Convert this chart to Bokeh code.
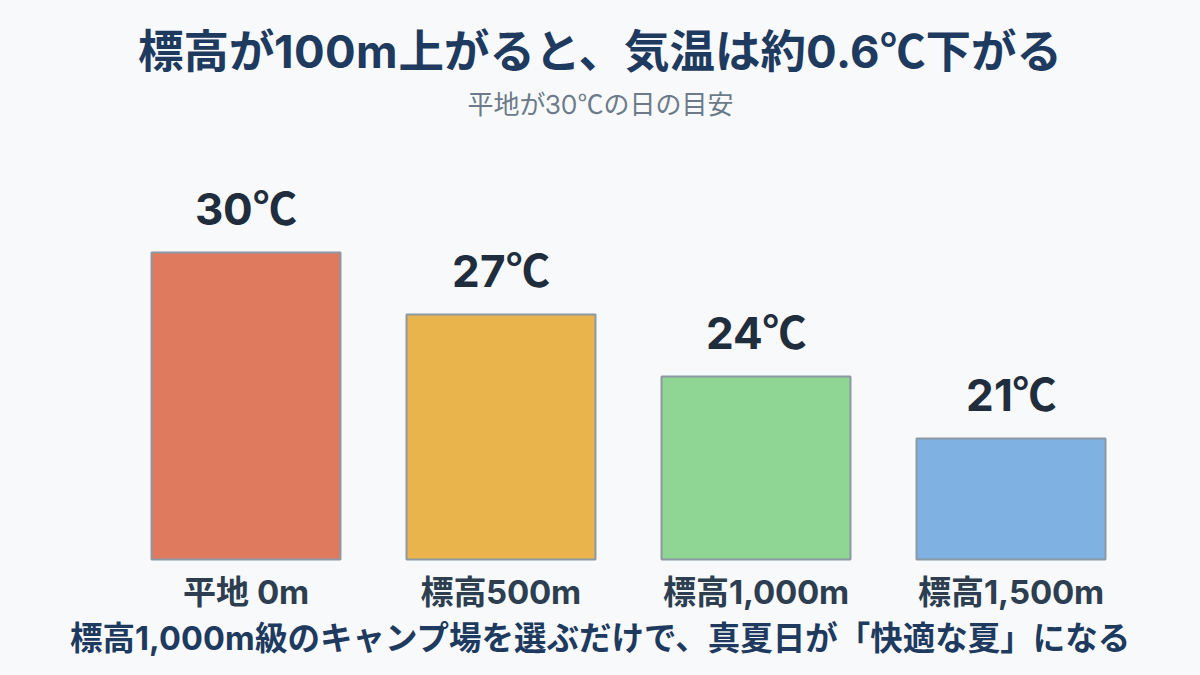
from bokeh.plotting import figure
from bokeh.models import Range1d, Label, ColumnDataSource
from bokeh.core.properties import value
from bokeh.embed import file_html
from bokeh.resources import INLINE

# ---- data ----
categories = ["平地 0m", "標高500m", "標高1,000m", "標高1,500m"]
temps = [30, 27, 24, 21]
temp_labels = ["30℃", "27℃", "24℃", "21℃"]
bar_colors = ["#E07A5F", "#E9B44C", "#8FD694", "#7FB2E3"]
title_text = "標高が100m上がると、気温は約0.6℃下がる"
subtitle_text = "平地が30℃の日の目安"
footer_text = "標高1,000m級のキャンプ場を選ぶだけで、真夏日が「快適な夏」になる"

BG = "#F7F9FB"
FONT = "LatinX, Roboto, 'Noto Sans CJK JP'"
W, H = 1200, 675
base = 15.15

idx = list(range(len(categories)))
src = ColumnDataSource(dict(x=idx, top=temps, color=bar_colors,
                            tl=temp_labels, cat=categories,
                            base=[base] * len(idx)))

p = figure(width=W, height=H, output_backend="svg", toolbar_location=None,
           x_range=Range1d(-0.9627, 3.7431), y_range=Range1d(9.5375, 42.197),
           x_axis_location=None, y_axis_location=None, min_border=0)
p.grid.visible = False
p.outline_line_color = None
p.background_fill_color = BG
p.border_fill_color = BG

p.vbar(x="x", top="top", bottom="base", width=0.741, source=src,
       fill_color="color", line_color="#8C99A4", line_width=2)

p.text(x="x", y="top", text="tl", source=src, text_align="center",
       text_baseline="alphabetic", y_offset=-44,
       text_font=value(FONT), text_font_size="44px", text_font_style="bold",
       text_color="#1F2D3D")

p.text(x="x", y="base", text="cat", source=src, text_align="center",
       text_baseline="alphabetic", y_offset=32,
       text_font=value(FONT), text_font_size="33px", text_font_style="bold",
       text_color="#2C3E50")

xc = (p.x_range.start + p.x_range.end) / 2
p.add_layout(Label(x=xc, y=624, y_units="screen", text=title_text,
                   text_align="center", text_baseline="alphabetic",
                   text_font=FONT, text_font_size="45.5px", text_font_style="bold",
                   text_color="#1E3A5F"))
p.add_layout(Label(x=xc, y=571, y_units="screen", text=subtitle_text,
                   text_align="center", text_baseline="alphabetic",
                   text_font=FONT, text_font_size="26px", text_font_style="normal",
                   text_color="#6C7A89"))
p.add_layout(Label(x=xc, y=37, y_units="screen", text=footer_text,
                   text_align="center", text_baseline="alphabetic",
                   text_font=FONT, text_font_size="32.5px", text_font_style="bold",
                   text_color="#1E3A5F"))

html = file_html(p, INLINE)
style = """<style>
@font-face { font-family: "LatinX"; src: local("Inter"), local("Inter Regular"), local("Inter-Regular");
  font-weight: 400; unicode-range: U+0020-007E; }
@font-face { font-family: "LatinX"; src: local("Inter Bold"), local("Inter-Bold"), local("Inter SemiBold");
  font-weight: 700; unicode-range: U+0020-007E; }
html, body { margin: 0; padding: 0; background: %s; }
</style>""" % BG
html = html.replace("</head>", style + "</head>", 1)
open("out.html", "w").write(html)
